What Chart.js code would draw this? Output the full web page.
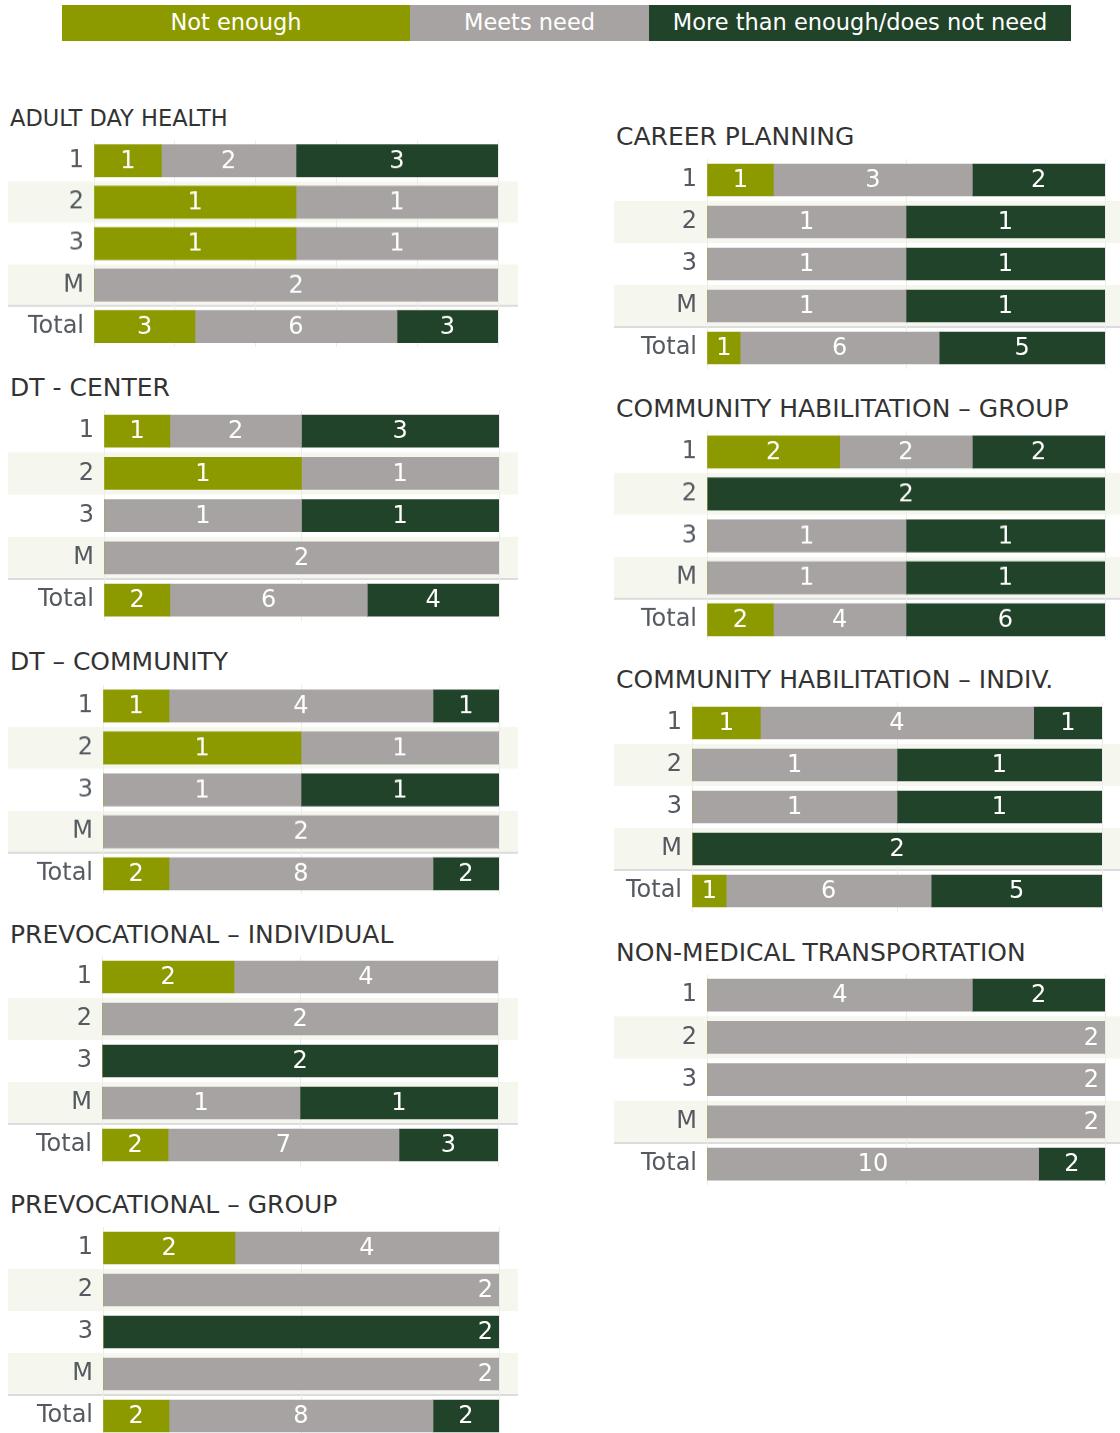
<!DOCTYPE html>
<html>
<head>
    <title>Service adequacy</title>
    <script src="https://cdn.jsdelivr.net/npm/chart.js"></script>
    <style>
        body { margin: 0; background: #fff; font-family: "DejaVu Sans", sans-serif; }
        #page { position: relative; width: 1120px; height: 1433px; overflow: hidden; }
        .legend { position: absolute; top: 5px; height: 36px; line-height: 34px; color: #fff; font-size: 22.5px; text-align: center; white-space: nowrap; }
        .title { position: absolute; color: #333; white-space: nowrap; line-height: 30px; height: 30px; }
        .panel { position: absolute; }
    </style>
</head>
<body>
<div id="page">
    <div class="legend" style="left:62px;width:348px;background:#8c9a00;">Not enough</div>
    <div class="legend" style="left:410px;width:239px;background:#a7a3a2;">Meets need</div>
    <div class="legend" style="left:649px;width:422px;background:#21432a;">More than enough/does not need</div>
</div>

<script>
    // categories (rows) and response groups
    var rows = ['1', '2', '3', 'M', 'Total'];
    var groups = ['Not enough', 'Meets need', 'More than enough/does not need'];
    var groupColors = ['#8c9a00', '#a7a3a2', '#21432a'];

    var titles = [
        'ADULT DAY HEALTH',
        'DT - CENTER',
        'DT \u2013 COMMUNITY',
        'PREVOCATIONAL \u2013 INDIVIDUAL',
        'PREVOCATIONAL \u2013 GROUP',
        'CAREER PLANNING',
        'COMMUNITY HABILITATION \u2013 GROUP',
        'COMMUNITY HABILITATION \u2013 INDIV.',
        'NON-MEDICAL TRANSPORTATION'
    ];

    // counts per row (1, 2, 3, M, Total) for each panel
    var notEnough = [
        [1, 1, 1, 0, 3],
        [1, 1, 0, 0, 2],
        [1, 1, 0, 0, 2],
        [2, 0, 0, 0, 2],
        [2, 0, 0, 0, 2],
        [1, 0, 0, 0, 1],
        [2, 0, 0, 0, 2],
        [1, 0, 0, 0, 1],
        [0, 0, 0, 0, 0]
    ];
    var meetsNeed = [
        [2, 1, 1, 2, 6],
        [2, 1, 1, 2, 6],
        [4, 1, 1, 2, 8],
        [4, 2, 0, 1, 7],
        [4, 2, 0, 2, 8],
        [3, 1, 1, 1, 6],
        [2, 0, 1, 1, 4],
        [4, 1, 1, 0, 6],
        [4, 2, 2, 2, 10]
    ];
    var moreThanEnough = [
        [3, 0, 0, 0, 3],
        [3, 0, 1, 0, 4],
        [1, 0, 1, 0, 2],
        [0, 0, 2, 1, 3],
        [0, 0, 2, 0, 2],
        [2, 1, 1, 1, 5],
        [2, 2, 1, 1, 6],
        [1, 1, 1, 2, 5],
        [2, 0, 0, 0, 2]
    ];

    // layout of each panel: canvas left/width, title centre/size, first row centre, row pitch, bar start/end, grid step, full-row label at end
    var layout = [
        { left: 8, width: 510, titleY: 118, titleSize: 22.5, row1: 161, pitch: 41.25, x0: 94, x1: 498, grid: 20, endLabel: false },
        { left: 8, width: 510, titleY: 388, titleSize: 25, row1: 431, pitch: 42.25, x0: 104, x1: 499, grid: 50, endLabel: false },
        { left: 8, width: 510, titleY: 662, titleSize: 25, row1: 706, pitch: 41.75, x0: 103, x1: 499, grid: 50, endLabel: false },
        { left: 8, width: 510, titleY: 935, titleSize: 25, row1: 977, pitch: 42, x0: 102, x1: 498, grid: 50, endLabel: false },
        { left: 8, width: 510, titleY: 1205, titleSize: 25, row1: 1248, pitch: 42, x0: 103, x1: 499, grid: 50, endLabel: true },
        { left: 614, width: 506, titleY: 137, titleSize: 25, row1: 180, pitch: 42, x0: 707, x1: 1105, grid: 50, endLabel: false },
        { left: 614, width: 506, titleY: 409, titleSize: 25, row1: 452, pitch: 41.75, x0: 707, x1: 1105, grid: 50, endLabel: false },
        { left: 614, width: 506, titleY: 680, titleSize: 25, row1: 723, pitch: 42, x0: 692, x1: 1102, grid: 50, endLabel: false },
        { left: 614, width: 506, titleY: 953, titleSize: 25, row1: 995, pitch: 42.25, x0: 707, x1: 1105, grid: 50, endLabel: true }
    ];

    var page = document.getElementById('page');

    // light bands behind rows 2 and M, line above Total
    var bandsPlugin = {
        id: 'bands',
        beforeDraw: function (chart) {
            var ctx = chart.ctx;
            var y = chart.scales.y;
            var pitch = chart.options.plugins.bands.pitch;
            ctx.save();
            ctx.fillStyle = '#f5f7ef';
            [1, 3].forEach(function (i) {
                var cy = y.getPixelForValue(i);
                ctx.fillRect(0, cy - pitch / 2, chart.width, pitch);
            });
            var ly = (y.getPixelForValue(3) + y.getPixelForValue(4)) / 2;
            ctx.strokeStyle = '#dcdcdc';
            ctx.lineWidth = 2;
            ctx.beginPath();
            ctx.moveTo(0, ly);
            ctx.lineTo(chart.width, ly);
            ctx.stroke();
            ctx.restore();
        }
    };

    // count labels inside the segments
    var countLabels = {
        id: 'countLabels',
        afterDatasetsDraw: function (chart) {
            var ctx = chart.ctx;
            var opts = chart.options.plugins.countLabels;
            ctx.save();
            ctx.font = '24px "DejaVu Sans", sans-serif';
            ctx.fillStyle = '#ffffff';
            ctx.textBaseline = 'middle';
            chart.data.datasets.forEach(function (ds, di) {
                var meta = chart.getDatasetMeta(di);
                meta.data.forEach(function (bar, i) {
                    var n = ds.counts[i];
                    if (!n) return;
                    var full = n === opts.totals[i];
                    if (full && opts.endLabel) {
                        ctx.textAlign = 'right';
                        ctx.fillText(String(n), bar.x - 6, bar.y + 1);
                    } else {
                        ctx.textAlign = 'center';
                        ctx.fillText(String(n), (bar.x + bar.base) / 2, bar.y + 1);
                    }
                });
            });
            ctx.restore();
        }
    };

    titles.forEach(function (title, p) {
        var lay = layout[p];

        var t = document.createElement('div');
        t.className = 'title';
        t.style.left = (lay.left + 2) + 'px';
        t.style.top = (lay.titleY - 15) + 'px';
        t.style.fontSize = lay.titleSize + 'px';
        t.textContent = title;
        page.appendChild(t);

        var h = lay.pitch * rows.length;
        var wrap = document.createElement('div');
        wrap.className = 'panel';
        wrap.style.left = lay.left + 'px';
        wrap.style.top = (lay.row1 - lay.pitch / 2) + 'px';
        wrap.style.width = lay.width + 'px';
        wrap.style.height = h + 'px';
        var canvas = document.createElement('canvas');
        wrap.appendChild(canvas);
        page.appendChild(wrap);

        var series = [notEnough[p], meetsNeed[p], moreThanEnough[p]];
        var totals = rows.map(function (r, i) {
            return series[0][i] + series[1][i] + series[2][i];
        });

        var datasets = series.map(function (counts, g) {
            return {
                label: groups[g],
                counts: counts,
                data: counts.map(function (c, i) { return totals[i] ? c / totals[i] * 100 : 0; }),
                backgroundColor: groupColors[g],
                borderWidth: 0,
                barThickness: 32
            };
        });

        var axisWidth = lay.x0 - lay.left;
        new Chart(canvas.getContext('2d'), {
            type: 'bar',
            data: { labels: rows, datasets: datasets },
            options: {
                indexAxis: 'y',
                responsive: true,
                maintainAspectRatio: false,
                animation: false,
                layout: { padding: { left: 0, right: lay.left + lay.width - lay.x1, top: 0, bottom: 0 } },
                plugins: {
                    legend: { display: false },
                    tooltip: { enabled: false },
                    bands: { pitch: lay.pitch },
                    countLabels: { totals: totals, endLabel: lay.endLabel }
                },
                scales: {
                    x: {
                        stacked: true,
                        min: 0,
                        max: 100,
                        ticks: { display: false, stepSize: lay.grid },
                        grid: { color: '#ececec', drawTicks: false },
                        border: { display: false }
                    },
                    y: {
                        stacked: true,
                        afterFit: function (scale) {
                            scale.width = axisWidth;
                            scale.paddingTop = 0;
                            scale.paddingBottom = 0;
                        },
                        ticks: {
                            color: '#555a60',
                            padding: 10,
                            font: { family: '"DejaVu Sans", sans-serif', size: 24 }
                        },
                        grid: { display: false, drawTicks: false },
                        border: { display: false }
                    }
                }
            },
            plugins: [bandsPlugin, countLabels]
        });
    });
</script>
</body>
</html>
